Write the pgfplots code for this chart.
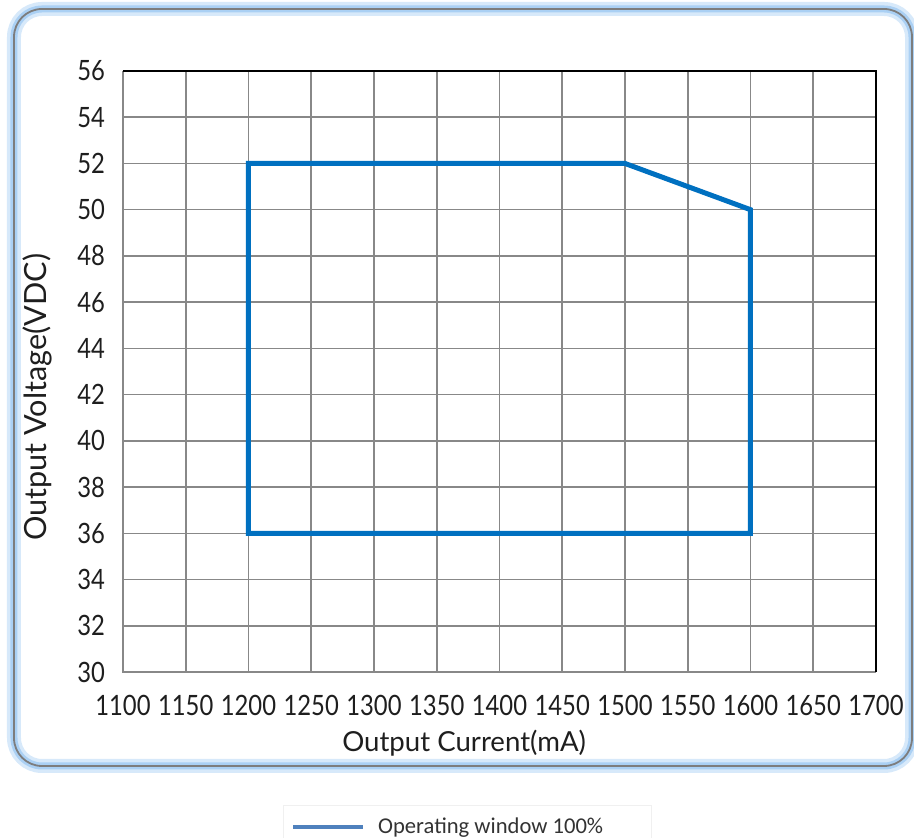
\documentclass[border=0pt]{standalone}
\usepackage{pgfplots}
\pgfplotsset{compat=1.18}
\usepackage{fontspec}
\setmainfont{Lato}
\newfontfamily\tickfont{Lato}[FakeStretch=0.85]
\newfontfamily\legfont{Carlito}
\definecolor{linblue}{RGB}{0,112,192}
\definecolor{legblue}{RGB}{79,129,189}
\definecolor{gridgray}{RGB}{136,136,136}
\definecolor{framegray}{RGB}{125,125,125}
\definecolor{glowa}{RGB}{215,233,250}
\definecolor{glowb}{RGB}{170,208,244}
\definecolor{txt}{RGB}{30,30,30}
\begin{document}
\begin{tikzpicture}[x=1pt,y=1pt]
\begin{axis}[
    scale only axis, width=376.5pt, height=300.5pt,
    xmin=1100, xmax=1700, ymin=30, ymax=56,
    xtick distance=50, ytick distance=2,
    major tick length=0pt,
    grid=major,
    grid style={gridgray, line width=0.8pt},
    axis line style={draw=none},
    /pgf/number format/assume math mode=true,
    /pgf/number format/1000 sep={},
    tick label style={font=\tickfont\fontsize{14}{16}\selectfont, text=txt},
    yticklabel style={xshift=-5.5pt},
    xticklabel style={yshift=-8pt},
    xlabel={Output Current(mA)},
    ylabel={Output Voltage(VDC)},
    xlabel style={at={(rel axis cs:0.453,0)}, anchor=center, yshift=-35.5pt,
        font=\fontsize{13.8}{16}\selectfont, text=txt},
    ylabel style={at={(rel axis cs:0,0.457)}, anchor=center, yshift=43pt,
        font=\fontsize{15.3}{17}\selectfont, text=txt},
    legend style={at={(rel axis cs:0.457,-0.258)}, anchor=center,
        draw=gray!12, fill=white, font=\legfont\fontsize{11.3}{13}\selectfont,
        text=black!80, inner xsep=4pt, inner ysep=4pt},
    legend cell align=left,
    clip=false,
]
\coordinate (sw) at (rel axis cs:0,0);
% axis border: left/bottom gray, top/right black
\draw[gridgray, line width=0.8pt] (rel axis cs:0,1) -- (rel axis cs:0,0) -- (rel axis cs:1,0);
\draw[black, line width=0.9pt] (rel axis cs:0,1) -- (rel axis cs:1,1) -- (rel axis cs:1,0);
\addplot[linblue, line width=2.5pt, line join=miter, forget plot] coordinates {
    (1200,36) (1200,52) (1500,52) (1600,50) (1600,36) (1200,36)
} -- cycle;
\addlegendimage{legend image code/.code={\draw[legblue, line width=2pt] (0pt,0pt) -- (35pt,0pt);}}
\addlegendentry{\makebox[135pt][l]{\hspace{4.5pt}Operating window 100\%}}
\end{axis}
\pgfresetboundingbox
\begin{scope}[shift={(sw)}]
\useasboundingbox (-61.5,336) rectangle (395.5,-83);
% frame with soft blue glow
\draw[glowa, line width=7pt, rounded corners=14pt] (-54.5,331.5) rectangle (394.5,-47);
\draw[glowb, line width=3.5pt, rounded corners=14pt] (-54.5,331.5) rectangle (394.5,-47);
\draw[framegray, line width=0.9pt, rounded corners=14pt] (-54.5,331.5) rectangle (394.5,-47);
\end{scope}
\end{tikzpicture}
\end{document}
